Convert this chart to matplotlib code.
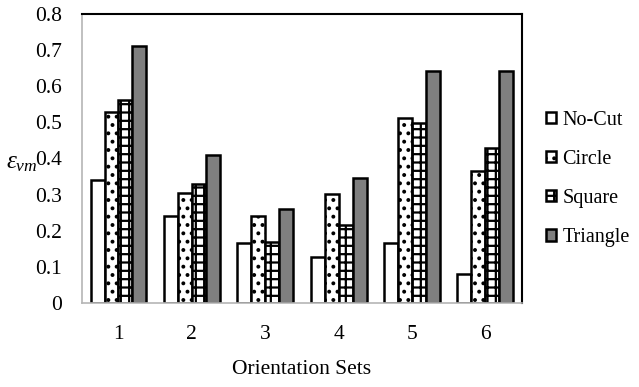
import numpy as np
import matplotlib
matplotlib.use("Agg")
import matplotlib.pyplot as plt

plt.rcParams['font.family'] = ['Liberation Serif', 'DejaVu Serif']
plt.rcParams['mathtext.fontset'] = 'custom'
plt.rcParams['mathtext.it'] = 'Liberation Serif:italic'
plt.rcParams['mathtext.rm'] = 'Liberation Serif'
plt.rcParams['hatch.linewidth'] = 1.6

sets = ['1', '2', '3', '4', '5', '6']
series = ['No-Cut', 'Circle', 'Square', 'Triangle']
no_cut = [0.34, 0.24, 0.167, 0.127, 0.167, 0.079]
circle = [0.529, 0.305, 0.24, 0.302, 0.512, 0.366]
square = [0.562, 0.33, 0.169, 0.216, 0.499, 0.428]
triangle = [0.712, 0.41, 0.259, 0.346, 0.642, 0.642]

styles = [
    dict(color='white', hatch=None),
    dict(color='white', hatch='..'),
    dict(color='white', hatch='++'),
    dict(color='#7f7f7f', hatch=None),
]

fig = plt.figure(figsize=(6.39, 3.87), dpi=100)
ax = fig.add_axes([0.128, 0.217, 0.689, 0.747])

x = np.arange(len(sets))
w = 0.19
for i, (vals, st) in enumerate(zip([no_cut, circle, square, triangle], styles)):
    ax.bar(x + (i - 1.5) * w, vals, w, color=st['color'], hatch=st['hatch'],
           edgecolor='black', linewidth=1.8, label=series[i], zorder=2)

ax.set_xlim(-0.5, len(sets) - 0.5)
ax.set_ylim(0, 0.8)
ax.set_yticks(np.arange(0, 0.81, 0.1))
ax.set_yticklabels(['0'] + ['%.1f' % v for v in np.arange(0.1, 0.81, 0.1)])
ax.set_xticks(x)
ax.set_xticklabels(sets)
ax.tick_params(axis='both', length=0, labelsize=15.5)
ax.tick_params(axis='y', pad=14)
ax.tick_params(axis='x', pad=16)

for s in ['top', 'right']:
    ax.spines[s].set_color('black')
    ax.spines[s].set_linewidth(1.5)
for s in ['left', 'bottom']:
    ax.spines[s].set_color('#b5b5b5')
    ax.spines[s].set_linewidth(1.2)

ax.set_xlabel('Orientation Sets', fontsize=15.5, labelpad=11)
fig.text(0.010, 0.578, r'$\varepsilon_{vm}$', fontsize=18, ha='left', va='center')

ax.legend(loc='upper left', bbox_to_anchor=(0.842, 0.735), bbox_transform=fig.transFigure,
          frameon=False, fontsize=14.5, handlelength=0.5, handleheight=0.5,
          handletextpad=0.3, labelspacing=1.0, borderaxespad=0)

fig.savefig('out.png', dpi=100)
